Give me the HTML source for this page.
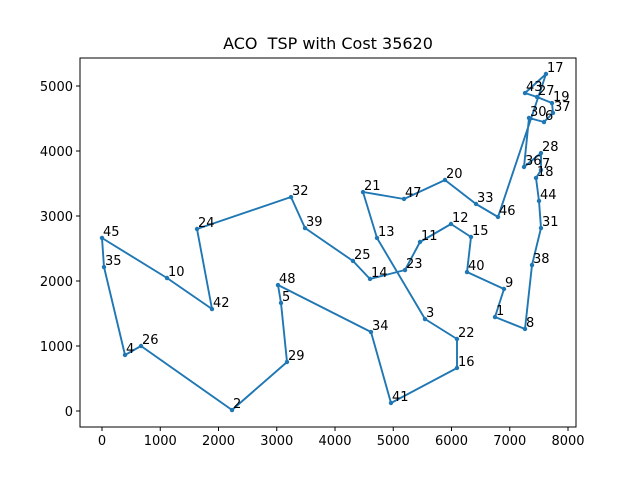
<!DOCTYPE html>
<html><head><meta charset="utf-8"><style>
body{margin:0;background:#fff;}
svg text{font-family:"DejaVu Sans","Liberation Sans",sans-serif;}
</style></head><body>
<svg id="c" width="640" height="480" xmlns="http://www.w3.org/2000/svg"></svg>
<script>
const cityIds=[1,9,40,15,12,11,23,14,25,39,32,24,42,10,45,35,4,26,2,29,5,48,34,41,16,22,3,13,21,47,20,33,46,17,43,27,19,37,6,30,36,28,7,18,44,31,38,8];
const cityX=[6747,6901,6266,6335,5991,5459,5202,4601,4309,3485,3245,1631,1888,1116,0,34,395,670,2232,3176,3073,3021,4618,4961,6094,6094,5545,4721,4481,5185,5888,6421,6798,7622,7262,7468,7725,7742,7588,7330,7245,7536,7536,7451,7502,7536,7382,7262];
const cityY=[1446,1877,2138,2677,2877,2600,2169,2031,2308,2815,3292,2800,1569,2046,2662,2215,862,1000,15,754,1662,1938,1215,123,662,1108,1415,2662,3369,3262,3554,3185,2985,5185,4892,4831,4738,4585,4446,4508,3754,3969,3708,3585,3231,2815,2246,1262];
const xTicks=[0,1000,2000,3000,4000,5000,6000,7000,8000];
const yTicks=[0,1000,2000,3000,4000,5000];
const NS="http://www.w3.org/2000/svg";
const svg=document.getElementById('c');
const L=80,R=576,T=58,B=427;
const sx=v=>102+v*0.05825, sy=v=>411-v*0.065;
function mk(t,a,p){const e=document.createElementNS(NS,t);for(const k in a)e.setAttribute(k,a[k]);(p||svg).appendChild(e);return e;}
let d='';
for(let i=0;i<=cityIds.length;i++){const j=i%cityIds.length;d+=(i?'L':'M')+sx(cityX[j]).toFixed(1)+','+sy(cityY[j]).toFixed(1);}
const route=mk('path',{d:d,fill:'none',stroke:'#1f77b4','stroke-width':1.9,'stroke-linejoin':'round'});


for(let i=0;i<cityIds.length;i++){
  const c=mk('circle',{cx:sx(cityX[i]),cy:sy(cityY[i]),r:2.2,fill:'#1f77b4'});
  
  
  const t=mk('text',{x:sx(cityX[i])+1,y:sy(cityY[i])-2,'font-size':13,fill:'#000'});
  t.textContent=cityIds[i];
  
  
}
const fr=mk('rect',{x:L,y:T,width:R-L,height:B-T,fill:'none',stroke:'#000','stroke-width':1});


xTicks.forEach(v=>{const x=sx(v);mk('line',{x1:x,x2:x,y1:B,y2:B+4,stroke:'#000'});
  const t=mk('text',{x:x,y:B+18,'font-size':13,'text-anchor':'middle'});t.textContent=v;
  
  });
yTicks.forEach(v=>{const y=sy(v);mk('line',{x1:L-4,x2:L,y1:y,y2:y,stroke:'#000'});
  const t=mk('text',{x:L-7,y:y+5,'font-size':13,'text-anchor':'end'});t.textContent=v;
  
  });
const ti=mk('text',{x:328,y:49,'font-size':16,'text-anchor':'middle'});
ti.textContent='ACO  TSP with Cost 35620';
ti.setAttribute('xml:space','preserve');
ti.style.whiteSpace='pre';


</script>
</body></html>
